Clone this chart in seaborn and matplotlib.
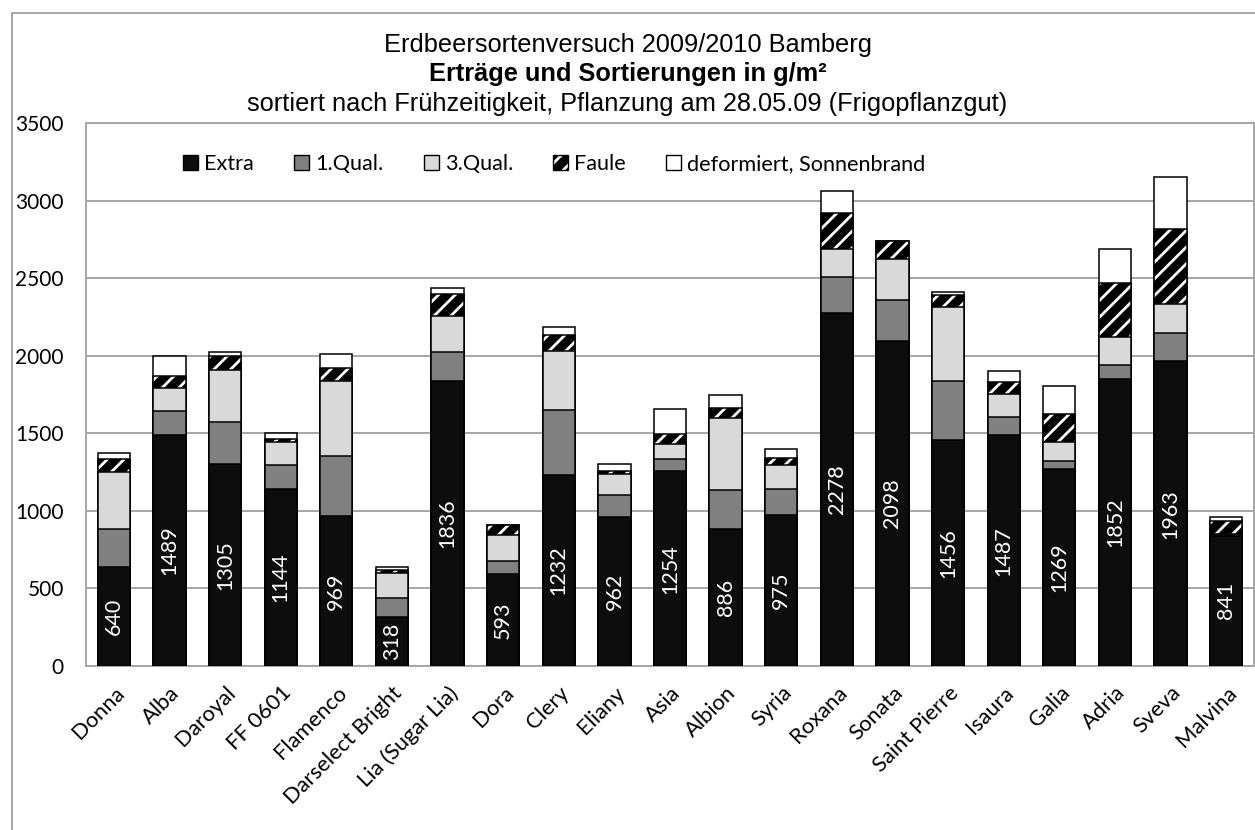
import pandas as pd
import matplotlib.pyplot as plt
import seaborn as sns
from matplotlib.patches import Patch, Rectangle

# =============================== #
# data (g/m2)
# =============================== #
sorten = ["Donna", "Alba", "Daroyal", "FF 0601", "Flamenco", "Darselect Bright",
          "Lia (Sugar Lia)", "Dora", "Clery", "Eliany", "Asia", "Albion", "Syria",
          "Roxana", "Sonata", "Saint Pierre", "Isaura", "Galia", "Adria", "Sveva",
          "Malvina"]
extra = [640, 1489, 1305, 1144, 969, 318, 1836, 593, 1232, 962, 1254, 886, 975,
         2278, 2098, 1456, 1487, 1269, 1852, 1963, 841]
qual1 = [246, 154, 267, 152, 387, 118, 189, 85, 415, 138, 78, 249, 168,
         227, 264, 380, 120, 52, 87, 184, 5]
qual3 = [367, 150, 337, 150, 484, 162, 229, 169, 382, 136, 101, 465, 150,
         183, 263, 476, 143, 125, 183, 184, 5]
faule = [79, 75, 88, 15, 80, 22, 144, 60, 107, 21, 60, 65, 50,
         232, 112, 77, 82, 180, 347, 486, 85]
deform = [39, 127, 30, 43, 90, 17, 36, 5, 47, 47, 165, 79, 53,
          139, 5, 24, 71, 182, 221, 338, 25]

legend_labels = ["Extra", "1.Qual.", "3.Qual.", "Faule", "deformiert, Sonnenbrand"]
title_lines = ["Erdbeersortenversuch 2009/2010 Bamberg",
               "Erträge und Sortierungen in g/m²",
               "sortiert nach Frühzeitigkeit, Pflanzung am 28.05.09 (Frigopflanzgut)"]

# =============================== #
# styles
# =============================== #
c_extra = "#0d0d0d"
c_q1 = "#808080"
c_q3 = "#d9d9d9"
c_def = "#ffffff"
grid_col = "#a6a6a6"
bar_w = 0.58
edge_lw = 1.1
lab_font = "Lato"
title_font = "Liberation Sans"
title_size = 18.3

plt.rcParams["hatch.linewidth"] = 2.0

# cumulative stacks
df = pd.DataFrame({"Sorte": sorten, "Extra": extra, "Q1": qual1, "Q3": qual3,
                   "Faule": faule, "Deform": deform})
df["c1"] = df["Extra"] + df["Q1"]
df["c3"] = df["c1"] + df["Q3"]
df["cf"] = df["c3"] + df["Faule"]
df["ct"] = df["cf"] + df["Deform"]

f = plt.figure(figsize=(12.55, 8.3), dpi=100)
ax = f.add_axes([86 / 1255, 1 - 666 / 830, 1168 / 1255, 543 / 830])

common = dict(data=df, x="Sorte", order=sorten, width=bar_w, errorbar=None,
              saturation=1, ax=ax)

sns.barplot(y="ct", color=c_def, edgecolor="black", linewidth=edge_lw, zorder=2, **common)
sns.barplot(y="cf", color="black", edgecolor="white", linewidth=0, hatch="//", zorder=3, **common)
sns.barplot(y="cf", color="black", fill=False, facecolor="none", edgecolor="black",
            linewidth=edge_lw, zorder=3.5, **common)
sns.barplot(y="c3", color=c_q3, edgecolor="black", linewidth=edge_lw, zorder=4, **common)
sns.barplot(y="c1", color=c_q1, edgecolor="black", linewidth=edge_lw, zorder=5, **common)
sns.barplot(y="Extra", color=c_extra, edgecolor="black", linewidth=edge_lw, zorder=6, **common)

# data labels inside Extra
for i, v in enumerate(extra):
    ax.text(i, v / 2, str(v), rotation=90, ha="center", va="center", color="white",
            fontsize=15.5, family=lab_font, zorder=7)

ax.set_ylim(0, 3500)
ax.set_yticks(range(0, 3501, 500))
ax.set_xlim(-0.5, len(sorten) - 0.5)
ax.set_xlabel("")
ax.set_ylabel("")
ax.yaxis.grid(True, color=grid_col, linewidth=1.4, zorder=0)
ax.set_axisbelow(True)
for s in ax.spines.values():
    s.set_color(grid_col)
    s.set_linewidth(1.4)
ax.tick_params(axis="both", length=0)
ax.tick_params(axis="y", pad=16, labelsize=15)
for t in ax.get_yticklabels():
    t.set_family(lab_font)
ax.set_xticks(range(len(sorten)))
ax.set_xticklabels(sorten, rotation=45, ha="right", rotation_mode="anchor",
                   family=lab_font, fontsize=15.8)
ax.tick_params(axis="x", pad=12)

# legend
handles = [Patch(facecolor=c_extra, edgecolor="black"),
           Patch(facecolor=c_q1, edgecolor="black"),
           Patch(facecolor=c_q3, edgecolor="black"),
           (Patch(facecolor="black", edgecolor="white", linewidth=0, hatch="//"),
            Patch(facecolor="none", edgecolor="black")),
           Patch(facecolor=c_def, edgecolor="black")]
ax.legend(handles, legend_labels, ncol=5, frameon=False, loc="center left",
          bbox_to_anchor=(97 / 1168, 1 - 41 / 543), prop={"family": lab_font, "size": 15.6},
          handlelength=0.69, handleheight=0.69, handletextpad=0.28, columnspacing=1.86,
          borderaxespad=0, borderpad=0)

# title lines
f.text(0.5, 1 - 45 / 830, title_lines[0], ha="center", va="center", fontsize=title_size,
       family=title_font)
f.text(0.5, 1 - 74 / 830, title_lines[1], ha="center", va="center", fontsize=title_size,
       family=title_font, fontweight="bold")
f.text(0.5, 1 - 104 / 830, title_lines[2], ha="center", va="center", fontsize=title_size,
       family=title_font)

# chart area border
f.patches.append(Rectangle((12 / 1255, -0.05), 1.1, 1.05 - 13 / 830, transform=f.transFigure,
                           fill=False, edgecolor=grid_col, linewidth=1.4, figure=f))

plt.savefig("out.png", dpi=100)
